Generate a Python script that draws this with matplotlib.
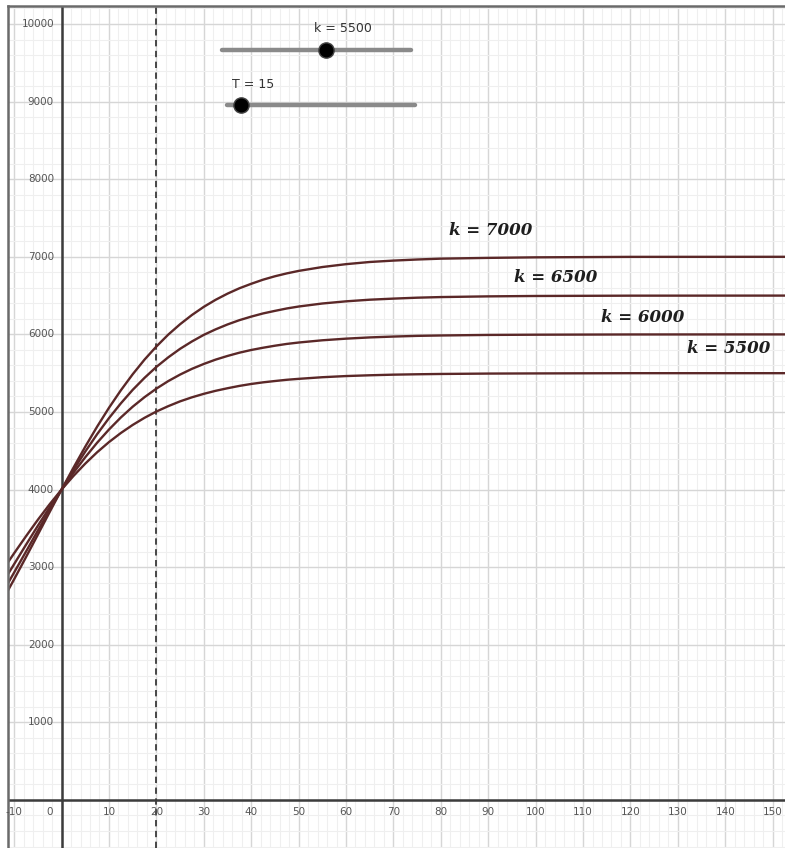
import matplotlib
matplotlib.use("Agg")
import matplotlib.pyplot as plt
from matplotlib.ticker import MultipleLocator

# values (population vs time, T = 15, start 4000)
t = [-12, -10, -7.5, -5, -2.5, 0, 2.5, 5, 7.5, 10, 12.5, 15, 17.5, 20, 22.5, 25, 27.5, 30,
     32.5, 35, 37.5, 40, 42.5, 45, 47.5, 50, 55, 60, 65, 70, 75, 80, 90, 100, 120, 155]
p_5500 = [3000, 3180, 3399, 3611, 3812, 4000, 4175, 4335, 4481, 4612, 4729, 4833, 4925, 5006,
          5075, 5137, 5189, 5234, 5273, 5306, 5336, 5361, 5382, 5399, 5415, 5427, 5448, 5463,
          5473, 5481, 5486, 5490, 5495, 5497, 5500, 5500]
p_6000 = [2840, 3040, 3289, 3534, 3772, 4000, 4216, 4417, 4604, 4774, 4929, 5068, 5191, 5301,
          5398, 5482, 5556, 5619, 5675, 5722, 5764, 5799, 5828, 5854, 5877, 5895, 5924, 5945,
          5961, 5972, 5981, 5986, 5993, 5996, 5999, 6000]
p_6500 = [2719, 2932, 3201, 3472, 3739, 4000, 4251, 4490, 4714, 4921, 5111, 5285, 5440, 5581,
          5704, 5814, 5909, 5994, 6065, 6128, 6183, 6229, 6270, 6303, 6334, 6359, 6398, 6426,
          6447, 6461, 6473, 6481, 6490, 6495, 6499, 6500]
p_7000 = [2622, 2845, 3130, 3420, 3712, 4000, 4281, 4553, 4811, 5054, 5279, 5486, 5675, 5844,
          5997, 6131, 6250, 6355, 6446, 6525, 6594, 6652, 6705, 6749, 6786, 6818, 6868, 6905,
          6933, 6951, 6965, 6976, 6986, 6993, 6999, 7000]
curve_labels = ["k = 5500", "k = 6000", "k = 6500", "k = 7000"]
x_ticks = [-10, 0, 10, 20, 30, 40, 50, 60, 70, 80, 90, 100, 110, 120, 130, 140, 150]
y_ticks = [1000, 2000, 3000, 4000, 5000, 6000, 7000, 8000, 9000, 10000]
t_line = 20
k_value = 5500
T_value = 15

W, H = 785, 848
fig = plt.figure(figsize=(W / 100, H / 100), dpi=100)
ax = fig.add_axes([8 / W, 0, (W - 8) / W, (H - 6) / H])
ax.set_xlim(-11.3, 152.6)
ax.set_ylim(-619, 10232)

ax.xaxis.set_major_locator(MultipleLocator(10))
ax.xaxis.set_minor_locator(MultipleLocator(2))
ax.yaxis.set_major_locator(MultipleLocator(1000))
ax.yaxis.set_minor_locator(MultipleLocator(200))
ax.grid(True, which='major', color='#d6d6d6', lw=1.0)
ax.grid(True, which='minor', color='#efefef', lw=0.8)
ax.tick_params(which='both', length=0, labelbottom=False, labelleft=False)
for s in ['right', 'bottom']:
    ax.spines[s].set_visible(False)
for s in ['left', 'top']:
    ax.spines[s].set_color('#6a6a6a')
    ax.spines[s].set_linewidth(1.8)

# axes through the origin
ax.axhline(0, color='#3c3c3c', lw=1.8)
ax.axvline(0, color='#3c3c3c', lw=1.8)
ax.axvline(t_line, color='#3a3a3a', lw=1.3, ls=(0, (3.5, 2.5)))

for xt in x_ticks:
    xl = -2.6 if xt == 0 else xt
    ax.text(xl, -160, str(xt), ha='center', va='center', fontsize=7.5, color='#555555')
for yt in y_ticks:
    ax.text(-1.6, yt, str(yt), ha='right', va='center', fontsize=7.5, color='#555555')

for ys in [p_5500, p_6000, p_6500, p_7000]:
    ax.plot(t, ys, color='#5b2828', lw=1.7, solid_joinstyle='round', solid_capstyle='round')

label_pos = [(140.7, 5812), (122.6, 6224), (104.3, 6727), (90.6, 7345)]
for lab, (lx, ly) in zip(curve_labels, label_pos):
    ax.text(lx, ly, lab, ha='center', va='center', fontsize=12, color='#1e1e1e',
            family='DejaVu Serif', weight='bold', style='italic')

# sliders (drawn in pixel positions of the screen)
def fx(px):
    return px / W

def fy(py):
    return 1 - py / H

fig.add_artist(plt.Line2D([fx(222), fx(411)], [fy(50), fy(50)], color='#8a8a8a', lw=3.2,
                          solid_capstyle='round', transform=fig.transFigure))
fig.add_artist(plt.Line2D([fx(326)], [fy(50)], marker='o', ms=11, color='black',
                          mec='#444444', transform=fig.transFigure))
fig.text(fx(343), fy(29), f"k = {k_value}", ha='center', va='center', fontsize=9, color='#333333')

fig.add_artist(plt.Line2D([fx(227), fx(415)], [fy(105), fy(105)], color='#8a8a8a', lw=3.2,
                          solid_capstyle='round', transform=fig.transFigure))
fig.add_artist(plt.Line2D([fx(241)], [fy(105)], marker='o', ms=11, color='black',
                          mec='#444444', transform=fig.transFigure))
fig.text(fx(253), fy(84), f"T = {T_value}", ha='center', va='center', fontsize=9, color='#333333')

fig.savefig("out.png", dpi=100)
